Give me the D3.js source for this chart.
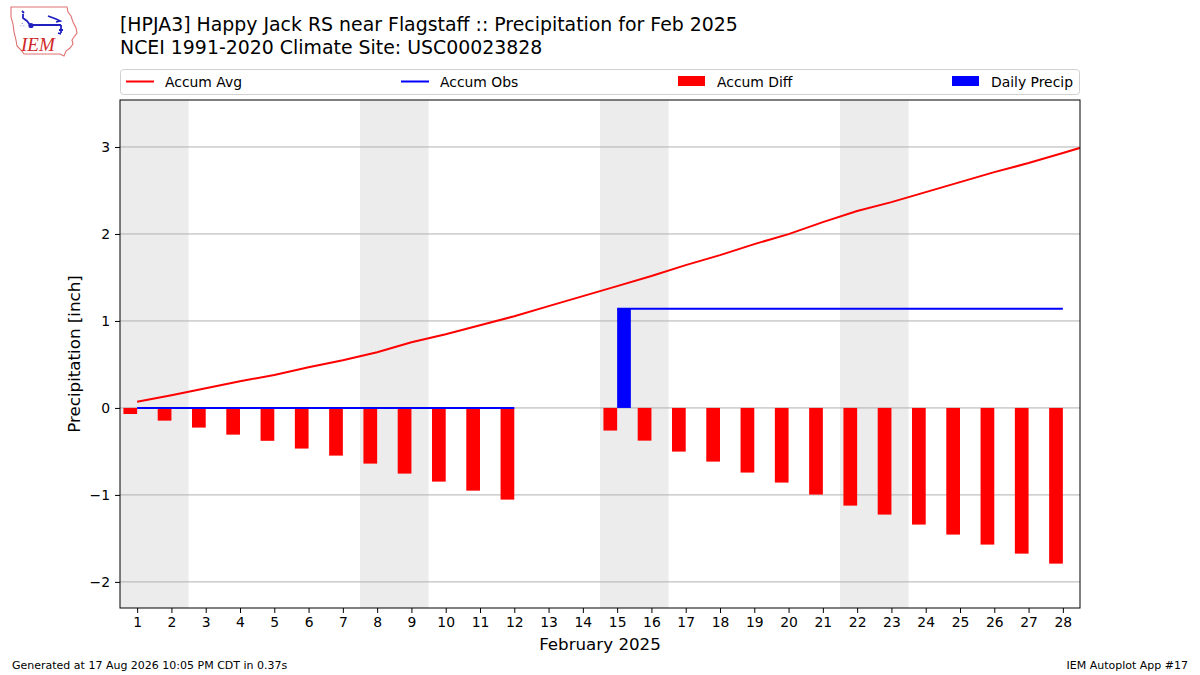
<!DOCTYPE html>
<html><head><meta charset="utf-8">
<script src="https://cdn.jsdelivr.net/npm/d3@7"></script>
<style>body{margin:0;background:#fff;}svg{display:block;font-family:"DejaVu Sans",sans-serif;}</style>
</head><body><svg id="c" width="1200" height="675"></svg>
<script>
const days = d3.range(1, 29);
const dayTicks = days.map(String);
// accumulated climate average (includes Mar 1 so the line runs to the frame edge)
const avgDays = d3.range(1, 30);
const accumAvg = [0.07,0.146,0.226,0.307,0.378,0.467,0.548,0.64,0.755,0.847,0.951,1.054,1.17,1.285,
  1.40,1.516,1.642,1.757,1.883,1.998,2.136,2.263,2.366,2.481,2.596,2.711,2.815,2.93,3.05];
const accumObs = [0,0,0,0,0,0,0,0,0,0,0,0,null,null,1.14,1.14,1.14,1.14,1.14,1.14,1.14,1.14,1.14,1.14,1.14,1.14,1.14,1.14];
const dailyPrecip = [0,0,0,0,0,0,0,0,0,0,0,0,null,null,1.14,0,0,0,0,0,0,0,0,0,0,0,0,0];
const weekendStarts = [1,8,15,22]; // Sat of each weekend (Sat+Sun shaded)
const yTicks = [-2,-1,0,1,2,3];

const svg = d3.select("#c");
const L=120,R=1080,T=100,B=608;
const x = d3.scaleLinear().domain([0.5,28.5]).range([L,R]);
const y = d3.scaleLinear().domain([-2.30,3.54]).range([B,T]);

// title
svg.append("text").attr("x",120).attr("y",31).attr("font-size",18.9).attr("fill","#000")
  .text("[HPJA3] Happy Jack RS near Flagstaff :: Precipitation for Feb 2025");
svg.append("text").attr("x",120).attr("y",54).attr("font-size",18.9).attr("fill","#000")
  .text("NCEI 1991-2020 Climate Site: USC00023828");

// logo
const lg = svg.append("g");
lg.append("path").attr("d","M11,7 L67,7 L68,12 L71,16 L73,22 L76,28 L77,33 L74,37 L72,40 L73,44 L70,48 L66,51 L64,56 L60,54 L24,54 L21,50 L17,46 L16,40 L14,32 L13,24 L11,17 Z")
  .attr("fill","none").attr("stroke","#e07070").attr("stroke-width",1.1);
lg.append("path").attr("d","M22,11 L24,13 M23,14 L23,18 L27,21 L30,25 M31,25 L61,25 M48,16 L56,19 L60,21 L56,22 M61,25 L61,33 M59,30 L63,30 M58,33 L61,34")
  .attr("fill","none").attr("stroke","#2020c0").attr("stroke-width",1.8);
lg.append("circle").attr("cx",31).attr("cy",25.5).attr("r",2.6).attr("fill","#2020c0");
lg.append("text").attr("x",20).attr("y",27).attr("font-size",7).attr("fill","#2020c0").text("∴");
lg.append("text").attr("x",21).attr("y",51).attr("font-family","'Liberation Serif',serif").attr("font-style","italic")
  .attr("font-size",19).attr("fill","#d02828").text("IEM");

// weekend shading
svg.append("g").selectAll("rect").data(weekendStarts).join("rect")
  .attr("x",d=>x(d-0.5)).attr("width",d=>x(d+1.5)-x(d-0.5)).attr("y",T).attr("height",B-T).attr("fill","#ececec");

// grid
svg.append("g").selectAll("line").data(yTicks).join("line")
  .attr("x1",L).attr("x2",R).attr("y1",d=>y(d)).attr("y2",d=>y(d)).attr("stroke","#b0b0b0").attr("stroke-width",1);

svg.append("clipPath").attr("id","pc").append("rect").attr("x",L).attr("y",T).attr("width",R-L).attr("height",B-T);
const pg = svg.append("g").attr("clip-path","url(#pc)");

// accum diff bars (left of day)
const diff = days.map((d,i)=> accumObs[i]==null?null:{d, v: accumObs[i]-accumAvg[i]}).filter(Boolean);
const bw = 0.4;
pg.append("g").selectAll("rect").data(diff).join("rect")
  .attr("x",o=>x(o.d-bw)).attr("width",o=>x(o.d)-x(o.d-bw))
  .attr("y",o=>y(Math.max(0,o.v))).attr("height",o=>Math.abs(y(o.v)-y(0))).attr("fill","#ff0000");

// daily precip bars (right of day)
const dp = days.map((d,i)=>({d,v:dailyPrecip[i]})).filter(o=>o.v>0);
pg.append("g").selectAll("rect").data(dp).join("rect")
  .attr("x",o=>x(o.d)).attr("width",o=>x(o.d+bw)-x(o.d))
  .attr("y",o=>y(o.v)).attr("height",o=>y(0)-y(o.v)).attr("fill","#0000ff");

// accum avg line
pg.append("path").datum(avgDays.map((d,i)=>[d,accumAvg[i]]))
  .attr("d",d3.line().x(p=>x(p[0])).y(p=>y(p[1]))).attr("fill","none").attr("stroke","#ff0000").attr("stroke-width",2);
// accum obs line
pg.append("path").datum(days.map((d,i)=>[d,accumObs[i]]))
  .attr("d",d3.line().defined(p=>p[1]!=null).x(p=>x(p[0])).y(p=>y(p[1]))).attr("fill","none").attr("stroke","#0000ff").attr("stroke-width",2);

// frame
svg.append("rect").attr("x",L).attr("y",T).attr("width",R-L).attr("height",B-T).attr("fill","none").attr("stroke","#000").attr("stroke-width",1);

// axes
const xa = svg.append("g").attr("transform",`translate(0,${B})`)
  .call(d3.axisBottom(x).tickValues(days).tickFormat((d,i)=>dayTicks[i]).tickSize(5).tickPadding(4));
const ya = svg.append("g").attr("transform",`translate(${L},0)`)
  .call(d3.axisLeft(y).tickValues(yTicks).tickFormat(d=>d<0?"\u2212"+Math.abs(d):String(d)).tickSize(5).tickPadding(5));
[xa,ya].forEach(a=>{a.select(".domain").remove();a.selectAll("text").attr("font-size",13.9).attr("font-family","DejaVu Sans").attr("fill","#000");a.selectAll("line").attr("stroke","#000");});

svg.append("text").attr("x",600).attr("y",650).attr("text-anchor","middle").attr("font-size",16.7).text("February 2025");
svg.append("text").attr("transform","translate(80,354) rotate(-90)").attr("text-anchor","middle").attr("font-size",16.7).text("Precipitation [inch]");

// legend
const leg = svg.append("g");
leg.append("rect").attr("x",120.5).attr("y",69.5).attr("width",959).attr("height",25).attr("rx",3)
  .attr("fill","#fff").attr("stroke","#d0d0d0");
const legItems = [
  {t:"Accum Avg",type:"line",c:"#ff0000",x:126},
  {t:"Accum Obs",type:"line",c:"#0000ff",x:401},
  {t:"Accum Diff",type:"rect",c:"#ff0000",x:678},
  {t:"Daily Precip",type:"rect",c:"#0000ff",x:952}];
legItems.forEach(it=>{
  if(it.type==="line") leg.append("line").attr("x1",it.x).attr("x2",it.x+28).attr("y1",81.5).attr("y2",81.5).attr("stroke",it.c).attr("stroke-width",2);
  else leg.append("rect").attr("x",it.x).attr("y",76).attr("width",27).attr("height",10).attr("fill",it.c);
  leg.append("text").attr("x",it.x+39).attr("y",86.5).attr("font-size",13.9).text(it.t);
});

// footer
svg.append("text").attr("x",12).attr("y",669).attr("font-size",11).text("Generated at 17 Aug 2026 10:05 PM CDT in 0.37s");
svg.append("text").attr("x",1188).attr("y",669).attr("text-anchor","end").attr("font-size",11).text("IEM Autoplot App #17");
</script></body></html>
